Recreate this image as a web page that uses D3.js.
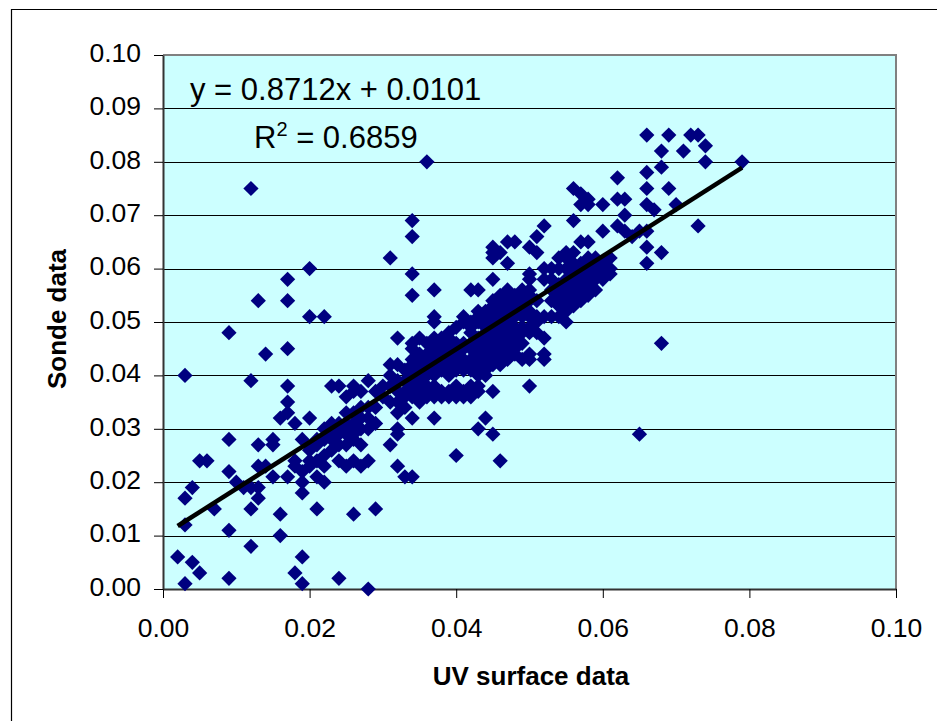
<!DOCTYPE html>
<html>
<head>
<meta charset="utf-8">
<script src="https://cdnjs.cloudflare.com/ajax/libs/d3/7.8.5/d3.min.js"></script>
<style>
    html, body { margin: 0; padding: 0; background: #fff; }
    svg { display: block; font-family: "Liberation Sans", Arial, sans-serif; }
    .axis text { font-size: 26.5px; fill: #000; }
    .axis-title { font-size: 26px; font-weight: bold; fill: #000; }
    .fit-label { font-size: 31px; fill: #000; }
</style>
</head>
<body>
<svg id="chart"></svg>
<script>
const xTicks = [0, 0.02, 0.04, 0.06, 0.08, 0.10];
const yTicks = [0, 0.01, 0.02, 0.03, 0.04, 0.05, 0.06, 0.07, 0.08, 0.09, 0.10];

// points away from the main band, read one by one
const outliers = [
    [.012,.075],[.036,.080],[.034,.069],[.034,.066],[.031,.062],[.034,.059],[.034,.055],[.037,.056],
    [.020,.060],[.017,.058],[.017,.054],[.013,.054],[.020,.051],[.022,.051],[.009,.048],[.014,.044],
    [.017,.045],[.003,.040],[.012,.039],[.017,.038],[.017,.035],[.017,.033],[.016,.032],[.018,.031],
    [.020,.032],[.009,.028],[.015,.028],[.015,.027],[.013,.027],[.019,.028],[.005,.024],[.006,.024],
    [.009,.022],[.013,.023],[.014,.023],[.010,.020],[.004,.019],[.003,.017],[.011,.019],[.012,.019],
    [.013,.019],[.013,.017],[.015,.021],[.017,.021],[.007,.015],[.012,.015],[.016,.014],[.003,.012],
    [.009,.011],[.016,.010],[.012,.008],[.002,.006],[.004,.005],[.005,.003],[.003,.001],[.009,.002],
    [.019,.006],[.018,.003],[.019,.001],[.024,.002],[.028,.000],[.021,.015],[.026,.014],[.029,.015],
    [.019,.018],[.019,.020],[.021,.021],[.022,.020],[.033,.021],[.034,.021],[.032,.023],[.040,.025],
    [.046,.024],[.043,.030],[.044,.032],[.045,.029],[.045,.037],[.044,.040],[.037,.032],[.034,.032],
    [.031,.027],[.065,.029],[.068,.046],[.050,.038]
];

// top right end of the cloud
const upperPoints = [
    [.066,.085],[.069,.085],[.072,.085],[.073,.085],[.074,.083],[.071,.082],[.068,.082],[.068,.079],
    [.066,.078],[.074,.080],[.079,.080],[.062,.077],[.066,.075],[.069,.075],[.056,.075],[.057,.074],
    [.058,.073],[.057,.072],[.058,.072],[.060,.072],[.062,.073],[.063,.073],[.066,.072],[.067,.071],
    [.070,.072],[.063,.070],[.056,.069],[.052,.068],[.051,.066],[.073,.068],[.060,.067],[.062,.068],
    [.063,.067],[.064,.066],[.065,.067],[.066,.067],[.066,.064],[.068,.063],[.066,.061],[.057,.065],
    [.058,.065],[.047,.065],[.048,.065],[.050,.064],[.051,.063],[.046,.063],[.047,.061]
];

// lower left part of the band
const lowerBand = [
    [.018,.024],[.018,.023],[.019,.022],[.020,.024],[.020,.023],[.021,.024],[.022,.023],[.022,.025],
    [.024,.024],[.025,.023],[.026,.024],[.027,.023],[.028,.024],[.027,.027],[.026,.029],[.026,.028],
    [.024,.027],[.025,.027],[.023,.026],[.022,.028],[.021,.028],[.020,.026],[.023,.028],[.023,.031],
    [.024,.029],[.025,.033],[.026,.031],[.022,.030],[.023,.029],[.024,.030],[.025,.029],[.025,.031],
    [.026,.030],[.027,.030],[.027,.032],[.028,.030],[.026,.033],[.027,.034],[.028,.034],
    [.029,.031],[.028,.032],[.029,.034],[.031,.035],[.032,.033],[.032,.030],[.032,.029],[.032,.035],
    [.023,.038],[.024,.038],[.026,.038],[.028,.039],[.025,.036],[.026,.037],[.027,.037],[.029,.037],
    [.031,.042],[.032,.042],[.031,.040],[.033,.041],[.032,.047],[.024,.031],[.021,.027],
    [.030,.036],[.030,.038],[.031,.038],[.032,.037],[.032,.039],[.033,.034]
];

// the dense middle of the band, one row per surface value
const bandX = [.033,.034,.035,.036,.037,.038,.039,.040,.041,.042,.043,.044,.045,.046,.047,.048,.049,.050,.051,.052,.053,.054,.055,.056,.057,.058,.059,.060,.061];
const bandY = [
    [.039,.037,.036],
    [.046,.045,.043,.042,.040,.039,.038,.036],
    [.047,.044,.042,.041,.039,.037,.035],
    [.046,.044,.043,.041,.040,.038,.036],
    [.051,.050,.047,.046,.045,.043,.042,.040,.038,.037,.036],
    [.047,.046,.045,.044,.042,.041,.037,.036],
    [.048,.047,.045,.044,.043,.041,.040,.037,.036],
    [.049,.046,.045,.044,.042,.041,.038,.037,.036],
    [.051,.050,.046,.045,.043,.042,.041,.037,.036],
    [.056,.050,.049,.048,.046,.045,.043,.042,.041,.038,.037,.036],
    [.056,.052,.051,.050,.047,.046,.045,.044,.043,.042,.041,.040,.038,.037],
    [.052,.050,.049,.048,.047,.046,.045,.044,.042,.041],
    [.064,.063,.062,.058,.054,.053,.052,.051,.050,.049,.048,.047,.045,.044,.043,.042],
    [.055,.054,.052,.051,.050,.049,.048,.047,.046,.044,.043,.042],
    [.056,.055,.054,.053,.052,.051,.050,.049,.048,.047,.046,.045,.043],
    [.055,.054,.053,.052,.051,.049,.048,.047,.046,.045,.044],
    [.056,.054,.053,.052,.051,.049,.048,.046,.043],
    [.059,.058,.056,.055,.054,.052,.051,.049,.048,.044,.043],
    [.054,.051,.050,.048],
    [.060,.058,.051,.047,.044,.043],
    [.060,.058,.056,.054,.051],
    [.062,.060,.057,.055,.053,.051],
    [.063,.062,.060,.058,.056,.054,.052,.050],
    [.063,.061,.059,.057,.055,.053],
    [.061,.060,.058,.056,.054],
    [.062,.061,.059,.057,.055],
    [.062,.060,.058,.056],
    [.061,.060,.059,.058],
    [.062,.060,.059]
];

// fitted line as printed on the chart, end points only
const trendX = [0.002, 0.079];
const trendY = [0.0118, 0.0789];
const fitEquation = "y = 0.8712x + 0.0101";
const fitValue = " = 0.6859";

const config = {
    width: 937, height: 721,
    plot: {left: 163, right: 896, top: 55, bottom: 589}
};

const svg = d3.select("#chart")
    .attr("width", config.width)
    .attr("height", config.height);

// outer chart frame, right and bottom fall outside the picture
svg.append("path")
    .attr("d", `M11.5,${config.height} V9.5 H${config.width}`)
    .attr("fill", "none")
    .attr("stroke", "#000")
    .attr("stroke-width", 1.2);

const xScale = d3.scaleLinear().domain([0, 0.10]).range([config.plot.left, config.plot.right]);
const yScale = d3.scaleLinear().domain([0, 0.10]).range([config.plot.bottom, config.plot.top]);

svg.append("rect")
    .attr("x", config.plot.left)
    .attr("y", config.plot.top)
    .attr("width", config.plot.right - config.plot.left)
    .attr("height", config.plot.bottom - config.plot.top)
    .attr("fill", "#ccffff");

// gridlines
svg.selectAll(".grid")
    .data(yTicks.slice(1, -1))
    .enter()
    .append("line")
    .attr("class", "grid")
    .attr("x1", config.plot.left)
    .attr("x2", config.plot.right)
    .attr("y1", d => Math.round(yScale(d)) + 0.5)
    .attr("y2", d => Math.round(yScale(d)) + 0.5)
    .attr("stroke", "#000")
    .attr("stroke-width", 1);

// plot border, grey on top and right
svg.append("path")
    .attr("d", `M${config.plot.left},${config.plot.top} H${config.plot.right} V${config.plot.bottom}`)
    .attr("fill", "none")
    .attr("stroke", "#808080")
    .attr("stroke-width", 2);

const xAxis = d3.axisBottom(xScale)
    .tickValues(xTicks)
    .tickSize(9)
    .tickSizeOuter(0)
    .tickPadding(20)
    .tickFormat(d3.format(".2f"));

const yAxis = d3.axisLeft(yScale)
    .tickValues(yTicks)
    .tickSize(9)
    .tickSizeOuter(0)
    .tickPadding(13)
    .tickFormat(d3.format(".2f"));

svg.append("g")
    .attr("class", "axis x-axis")
    .attr("transform", `translate(0,${config.plot.bottom})`)
    .call(xAxis);

svg.append("g")
    .attr("class", "axis y-axis")
    .attr("transform", `translate(${config.plot.left},0)`)
    .call(yAxis);

// y labels sit a little above their ticks
svg.selectAll(".y-axis text").attr("dy", "0.24em");
svg.selectAll(".axis path").attr("stroke", "#333").attr("stroke-width", 2);
svg.selectAll(".axis line").attr("stroke", "#000").attr("stroke-width", 1);

// collect the band rows with the rest
const bandPoints = bandX.flatMap((x, i) => bandY[i].map(y => [x, y]));
const allPoints = outliers.concat(upperPoints, lowerBand, bandPoints);

const diamond = d3.symbol().type(d3.symbolSquare).size(116);

svg.selectAll(".point")
    .data(allPoints)
    .enter()
    .append("path")
    .attr("class", "point")
    .attr("d", diamond)
    .attr("transform", d => `translate(${xScale(d[0])},${yScale(d[1])}) rotate(45)`)
    .attr("fill", "#000080");

svg.append("path")
    .datum(trendX.map((x, i) => [x, trendY[i]]))
    .attr("d", d3.line().x(d => xScale(d[0])).y(d => yScale(d[1])))
    .attr("fill", "none")
    .attr("stroke", "#000")
    .attr("stroke-width", 4.5);

// regression labels
svg.append("text")
    .attr("class", "fit-label")
    .attr("x", 190)
    .attr("y", 100)
    .text(fitEquation);

const r2 = svg.append("text")
    .attr("class", "fit-label")
    .attr("x", 254)
    .attr("y", 148);
r2.append("tspan").text("R");
r2.append("tspan").attr("dy", -12).style("font-size", "20px").text("2");
r2.append("tspan").attr("dy", 12).text(fitValue);

// axis titles
svg.append("text")
    .attr("class", "axis-title")
    .attr("x", 531)
    .attr("y", 685)
    .attr("text-anchor", "middle")
    .text("UV surface data");

svg.append("text")
    .attr("class", "axis-title")
    .attr("transform", "translate(66,319) rotate(-90)")
    .attr("text-anchor", "middle")
    .text("Sonde data");
</script>
</body>
</html>
